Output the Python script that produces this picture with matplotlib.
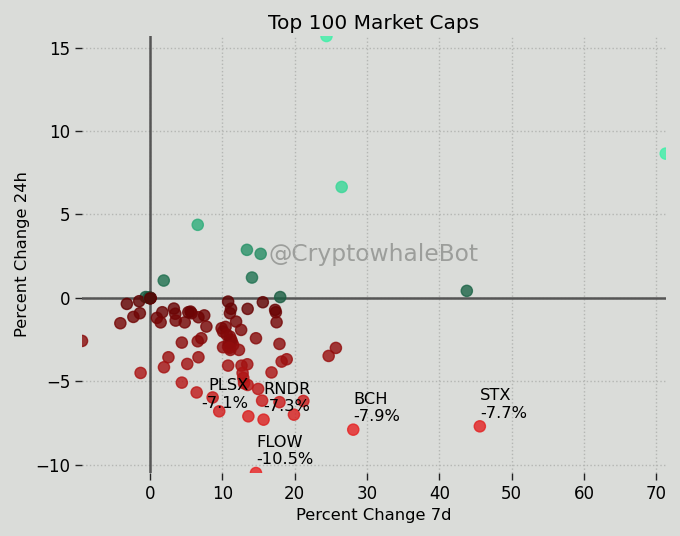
import numpy as np
import matplotlib
matplotlib.use("Agg")
import matplotlib.pyplot as plt
from matplotlib.colors import LinearSegmentedColormap

# datos (cambio % 7d, cambio % 24h)
change_7d = [
    24.4, 71.3, 26.5, 6.6, 13.4, 15.3, 14.1, 1.9, 18.0, 43.8,
    0.0, -0.2, -0.6, -1.5, -3.2, -1.4, -2.3, -4.1, -9.4, -1.3,
    0.95, 1.7, 1.47, 3.3, 3.5, 3.55, 4.8, 5.3, 5.6, 5.75,
    6.7, 7.5, 7.8, 4.4, 6.6, 7.1, 2.55, 1.93, 5.15, 6.7,
    4.4, 6.45, 8.66, 9.57, 10.8, 11.2, 11.05, 11.9, 12.6, 13.5,
    15.6, 17.3, 17.4, 17.5, 9.9, 10.1, 10.45, 11.05, 11.3, 10.8,
    11.5, 10.1, 11.1, 12.3, 14.65, 17.9, 10.8, 12.65, 13.45, 12.8,
    12.9, 13.0, 13.5, 14.95, 15.5, 17.9, 21.2, 19.9, 18.2, 18.9,
    16.8, 24.7, 25.7, 13.6, 15.7, 14.65, 28.1, 45.6,
    0.05, 0.1, -0.05, 0.02, 10.9, 11.2, 11.0, 10.6,
]
change_24h = [
    15.7, 8.65, 6.65, 4.38, 2.88, 2.64, 1.22, 1.04, 0.05, 0.42,
    0.0, 0.02, 0.05, -0.2, -0.36, -0.92, -1.14, -1.52, -2.58, -4.5,
    -1.2, -0.86, -1.47, -0.64, -0.95, -1.36, -1.47, -0.86, -0.82, -0.92,
    -1.16, -1.05, -1.72, -2.68, -2.6, -2.42, -3.56, -4.16, -3.96, -3.56,
    -5.08, -5.67, -5.97, -6.8, -0.22, -0.65, -0.92, -1.42, -1.92, -0.66,
    -0.26, -0.72, -0.86, -1.46, -1.82, -2.02, -1.74, -2.32, -2.62, -2.92,
    -2.82, -2.96, -3.12, -3.12, -2.42, -2.76, -4.06, -4.06, -3.98, -4.5,
    -4.8, -5.12, -5.22, -5.46, -6.16, -6.25, -6.18, -7.0, -3.82, -3.68,
    -4.47, -3.48, -3.0, -7.1, -7.3, -10.5, -7.9, -7.7,
    -0.02, 0.0, 0.01, -0.03, -2.7, -2.5, -3.0, -2.2,
]

# monedas con mayor caida en 24h
label_names = ['FLOW', 'BCH', 'STX', 'RNDR', 'PLSX']
label_7d = [14.65, 28.1, 45.6, 15.7, 13.6]
label_24h = [-10.5, -7.9, -7.7, -7.3, -7.1]
label_ha = ['left', 'left', 'left', 'left', 'right']

x = np.array(change_7d)
y = np.array(change_24h)

bg = '#dadcd9'
reds = LinearSegmentedColormap.from_list('rojos', ['#5c0000', '#e82222'])
greens = LinearSegmentedColormap.from_list('verdes', ['#1a5c42', '#3ef0a8'])

colors = []
for v in y:
    t = min(abs(v) / 8.0, 1.0)
    colors.append(greens(t) if v > 0 else reds(t))

fig = plt.figure(figsize=(6.8, 5.36), dpi=100, facecolor=bg)
ax = fig.add_axes([0.1206, 0.1175, 0.8584, 0.8153])
ax.set_facecolor(bg)

ax.scatter(x, y, c=colors, s=65, alpha=0.8, zorder=3)

ax.axhline(0, color='#555555', lw=1.8, zorder=2)
ax.axvline(0, color='#555555', lw=1.8, zorder=2)
ax.grid(True, linestyle=':', color='#b4b6b3', lw=1)

ax.set_xlim(x.min(), x.max())
ax.set_ylim(y.min(), y.max())
ax.set_xticks(np.arange(0, 71, 10))
ax.set_yticks([-10, -5, 0, 5, 10, 15])
for s in ax.spines.values():
    s.set_visible(False)
ax.tick_params(labelsize=12, length=5, width=1, color='#222222')

for name, px, py, ha in zip(label_names, label_7d, label_24h, label_ha):
    ax.annotate(f"{name}\n{py:.1f}%", (px, py), xytext=(0, 4),
                textcoords='offset points', ha=ha, va='bottom',
                fontsize=11.7, multialignment=ha, zorder=4)

ax.text(0.5, 0.5, '@CryptowhaleBot', transform=ax.transAxes, ha='center',
        va='center', fontsize=16.8, color='#9c9e9b', zorder=1)

ax.set_xlabel('Percent Change 7d', fontsize=11.8)
ax.set_ylabel('Percent Change 24h', fontsize=11.8)
ax.set_title('Top 100 Market Caps', fontsize=14.5, pad=5)

fig.savefig('out.png', dpi=100, facecolor=bg)
